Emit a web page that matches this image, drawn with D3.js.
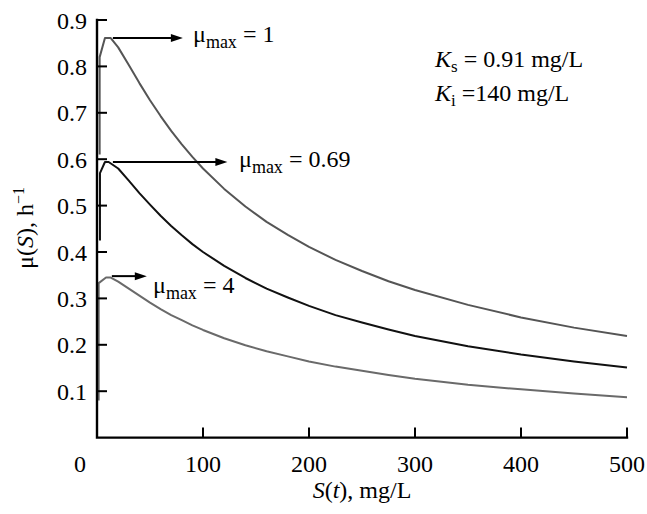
<!DOCTYPE html>
<html>
<head>
<meta charset="utf-8">
<script src="https://cdn.jsdelivr.net/npm/d3@7/dist/d3.min.js"></script>
<style>
  html, body { margin: 0; padding: 0; background: #fff; }
  svg { display: block; }
  svg text, svg tspan { font-family: "Liberation Serif" !important; }
</style>
</head>
<body>
<svg id="chart" width="647" height="514"></svg>
<script>
// ---- data ----
const xTicks = [100, 200, 300, 400, 500];
const yTicks = [0.1, 0.2, 0.3, 0.4, 0.5, 0.6, 0.7, 0.8, 0.9];

const sCurve1 = [2.5, 2.5, 7.5, 13, 20, 30, 40, 50, 60, 70, 80, 90, 100, 120, 140, 160, 180, 200, 225, 250, 275, 300, 350, 400, 450, 500];
const muCurve1 = [0.61, 0.82, 0.861, 0.861, 0.841, 0.803, 0.764, 0.727, 0.693, 0.661, 0.632, 0.605, 0.580, 0.536, 0.498, 0.465, 0.437, 0.411, 0.383, 0.359, 0.337, 0.318, 0.286, 0.259, 0.237, 0.219];

const sCurve2 = [2.8, 2.8, 7.5, 11, 20, 30, 40, 50, 60, 70, 80, 90, 100, 120, 140, 160, 180, 200, 225, 250, 275, 300, 350, 400, 450, 500];
const muCurve2 = [0.425, 0.57, 0.594, 0.594, 0.580, 0.554, 0.527, 0.502, 0.478, 0.456, 0.436, 0.417, 0.400, 0.370, 0.344, 0.321, 0.302, 0.284, 0.264, 0.248, 0.233, 0.219, 0.197, 0.179, 0.164, 0.151];

const sCurve3 = [1.6, 1.6, 8.5, 13, 20, 30, 40, 50, 60, 70, 80, 90, 100, 120, 140, 160, 180, 200, 225, 250, 275, 300, 350, 400, 450, 500];
const muCurve3 = [0.08, 0.333, 0.345, 0.345, 0.336, 0.321, 0.306, 0.291, 0.277, 0.264, 0.253, 0.242, 0.232, 0.214, 0.199, 0.186, 0.175, 0.164, 0.153, 0.144, 0.135, 0.127, 0.114, 0.104, 0.095, 0.087];

const curveLabels = ["1", "0.69", "4"];
const curveColors = ["#555555", "#111111", "#6a6a6a"];
// arrows: level (mu), start S, end S
const arrowLevel = [0.861, 0.594, 0.348];
const arrowFrom = [15, 15, 14];
const arrowTo = [81, 123, 47];

// ---- drawing ----
const FONT = '"Liberation Serif"';
const svg = d3.select("#chart");
const x = d3.scaleLinear().domain([0, 500]).range([97, 627]);
const y = d3.scaleLinear().domain([0, 0.9]).range([437.6, 20]);

const T = (sel) => sel.append("text").attr("font-size", 24).style("font-family", FONT).attr("fill", "#000");

// ---- texts first ----
yTicks.forEach(d => {
  T(svg).attr("x", 87).attr("y", y(d)).attr("dy", "0.36em")
    .attr("text-anchor", "end").text(d.toFixed(1));
});
xTicks.forEach(d => {
  T(svg).attr("x", x(d)).attr("y", 472)
    .attr("text-anchor", "middle").text(d);
});
T(svg).attr("x", 80).attr("y", 472)
  .attr("text-anchor", "middle").text("0");

const xt = T(svg).attr("x", 362).attr("y", 498)
  .attr("text-anchor", "middle");
xt.append("tspan").attr("font-style", "italic").text("S");
xt.append("tspan").text("(");
xt.append("tspan").attr("font-style", "italic").text("t");
xt.append("tspan").text("), mg/L");

const yt = T(svg)
  .attr("transform", "translate(33,228) rotate(-90)")
  .attr("text-anchor", "middle");
yt.append("tspan").text("μ(");
yt.append("tspan").attr("font-style", "italic").text("S");
yt.append("tspan").text("), h");
yt.append("tspan").attr("dy", -9).attr("font-size", 16).text("−1");

const labelX = [193, 239, 153];
const labelY = [42, 167, 293];
curveLabels.forEach((lab, i) => {
  const t = T(svg).attr("x", labelX[i]).attr("y", labelY[i]);
  t.append("tspan").text("μ");
  t.append("tspan").attr("dy", 6).attr("font-size", 18).text("max");
  t.append("tspan").attr("dy", -6).text(" = " + lab);
});

const k1 = T(svg).attr("x", 435).attr("y", 67);
k1.append("tspan").attr("font-style", "italic").text("K");
k1.append("tspan").attr("dy", 5).attr("font-size", 17).text("s");
k1.append("tspan").attr("dy", -5).text(" = 0.91 mg/L");
const k2 = T(svg).attr("x", 435).attr("y", 101);
k2.append("tspan").attr("font-style", "italic").text("K");
k2.append("tspan").attr("dy", 5).attr("font-size", 17).text("i");
k2.append("tspan").attr("dy", -5).text(" =140 mg/L");

// ---- curves ----
const series = [
  { s: sCurve1, mu: muCurve1 },
  { s: sCurve2, mu: muCurve2 },
  { s: sCurve3, mu: muCurve3 }
];
const line = d3.line().x(d => x(d[0])).y(d => y(d[1]));
series.forEach((ser, i) => {
  svg.append("path")
    .datum(ser.s.map((v, j) => [v, ser.mu[j]]))
    .attr("d", line)
    .attr("fill", "none")
    .attr("stroke", curveColors[i])
    .attr("stroke-width", 2)
    .attr("stroke-linejoin", "round");
});

// ---- tick marks (inward) via scales ----
yTicks.forEach(d => {
  svg.append("line").attr("x1", x(0)).attr("x2", x(0) + 10)
    .attr("y1", y(d)).attr("y2", y(d))
    .attr("stroke", "#000").attr("stroke-width", 2);
});
xTicks.forEach(d => {
  svg.append("line").attr("x1", x(d)).attr("x2", x(d))
    .attr("y1", y(0)).attr("y2", y(0) - 10)
    .attr("stroke", "#000").attr("stroke-width", 2);
});

// axis lines
svg.append("path")
  .attr("d", `M${x(0)},${y(0.9)} V${y(0)} H${x(500)}`)
  .attr("fill", "none").attr("stroke", "#000").attr("stroke-width", 2.4)
  .attr("stroke-linecap", "square");

// ---- arrows ----
arrowLevel.forEach((lv, i) => {
  const yy = y(lv), x0 = x(arrowFrom[i]), x1 = x(arrowTo[i]);
  svg.append("line")
    .attr("x1", x0).attr("x2", x1 - 10)
    .attr("y1", yy).attr("y2", yy)
    .attr("stroke", "#000").attr("stroke-width", 2);
  svg.append("path")
    .attr("d", `M${x1 - 12},${yy - 4} L${x1},${yy} L${x1 - 12},${yy + 4} Z`)
    .attr("fill", "#000");
});
</script>
</body>
</html>
